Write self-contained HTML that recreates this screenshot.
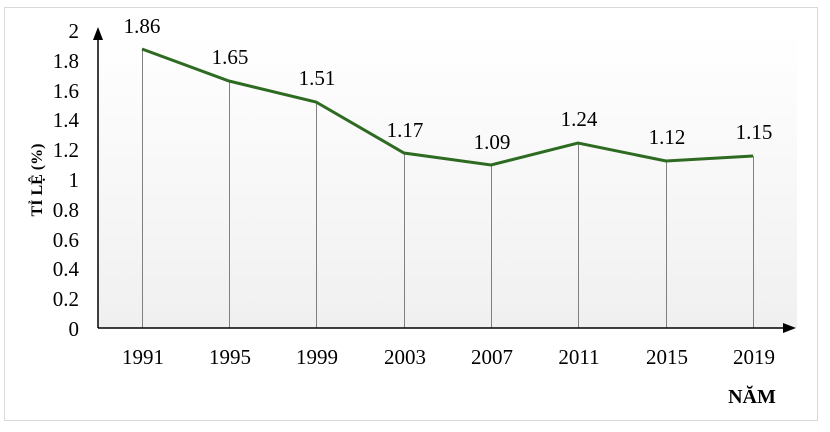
<!DOCTYPE html>
<html><head><meta charset="utf-8"><style>
body{margin:0;background:#fff;}
svg text{font-family:"Liberation Serif",serif;}
</style></head><body>
<svg width="830" height="427" viewBox="0 0 830 427" xmlns="http://www.w3.org/2000/svg">
<defs><linearGradient id="g" x1="0" y1="0" x2="0" y2="1"><stop offset="0" stop-color="#ffffff"/><stop offset="1" stop-color="#f0f0f0"/></linearGradient></defs>
<rect x="4.5" y="7.5" width="813" height="413" fill="#fff" stroke="#d9d9d9"/>
<rect x="98" y="30" width="699" height="298" fill="url(#g)"/>
<g stroke="#808080" stroke-width="1">
<line x1="142.5" y1="49" x2="142.5" y2="328"/>
<line x1="229.5" y1="81" x2="229.5" y2="328"/>
<line x1="316.5" y1="102" x2="316.5" y2="328"/>
<line x1="404.5" y1="153" x2="404.5" y2="328"/>
<line x1="491.5" y1="165" x2="491.5" y2="328"/>
<line x1="578.5" y1="143" x2="578.5" y2="328"/>
<line x1="666.5" y1="161" x2="666.5" y2="328"/>
<line x1="753.5" y1="156" x2="753.5" y2="328"/>
</g>
<polyline fill="none" stroke="#2e6b22" stroke-width="3" points="142,49 229,81 316,102 404,153 491,165 578,143 666,161 753,156"/>
<line x1="98" y1="40" x2="98" y2="328" stroke="#000" stroke-width="1.5"/>
<polygon points="98,27 93,40 103,40" fill="#000"/>
<line x1="98" y1="328" x2="783" y2="328" stroke="#000" stroke-width="1.5"/>
<polygon points="796,328 783,323 783,333" fill="#000"/>
<g font-size="21" text-anchor="end" fill="#000">
<text x="79" y="38">2</text><text x="79" y="68">1.8</text><text x="79" y="98">1.6</text><text x="79" y="127">1.4</text><text x="79" y="157">1.2</text><text x="79" y="187">1</text><text x="79" y="217">0.8</text><text x="79" y="247">0.6</text><text x="79" y="276">0.4</text><text x="79" y="306">0.2</text><text x="79" y="336">0</text>
</g>
<g font-size="21" text-anchor="middle" fill="#000">
<text x="143" y="364">1991</text><text x="230" y="364">1995</text><text x="317" y="364">1999</text><text x="405" y="364">2003</text><text x="492" y="364">2007</text><text x="579" y="364">2011</text><text x="667" y="364">2015</text><text x="754" y="364">2019</text>
<text x="142" y="33">1.86</text><text x="230" y="64">1.65</text><text x="317" y="85">1.51</text><text x="405" y="137">1.17</text><text x="492" y="149">1.09</text><text x="579" y="126">1.24</text><text x="667" y="144">1.12</text><text x="754" y="139">1.15</text>
</g>
<text x="752" y="403" font-size="20" font-weight="bold" text-anchor="middle">NĂM</text>
<text transform="translate(42,180) rotate(-90)" font-size="16" font-weight="bold" text-anchor="middle">TỈ LỆ (%)</text>
</svg>
</body></html>
